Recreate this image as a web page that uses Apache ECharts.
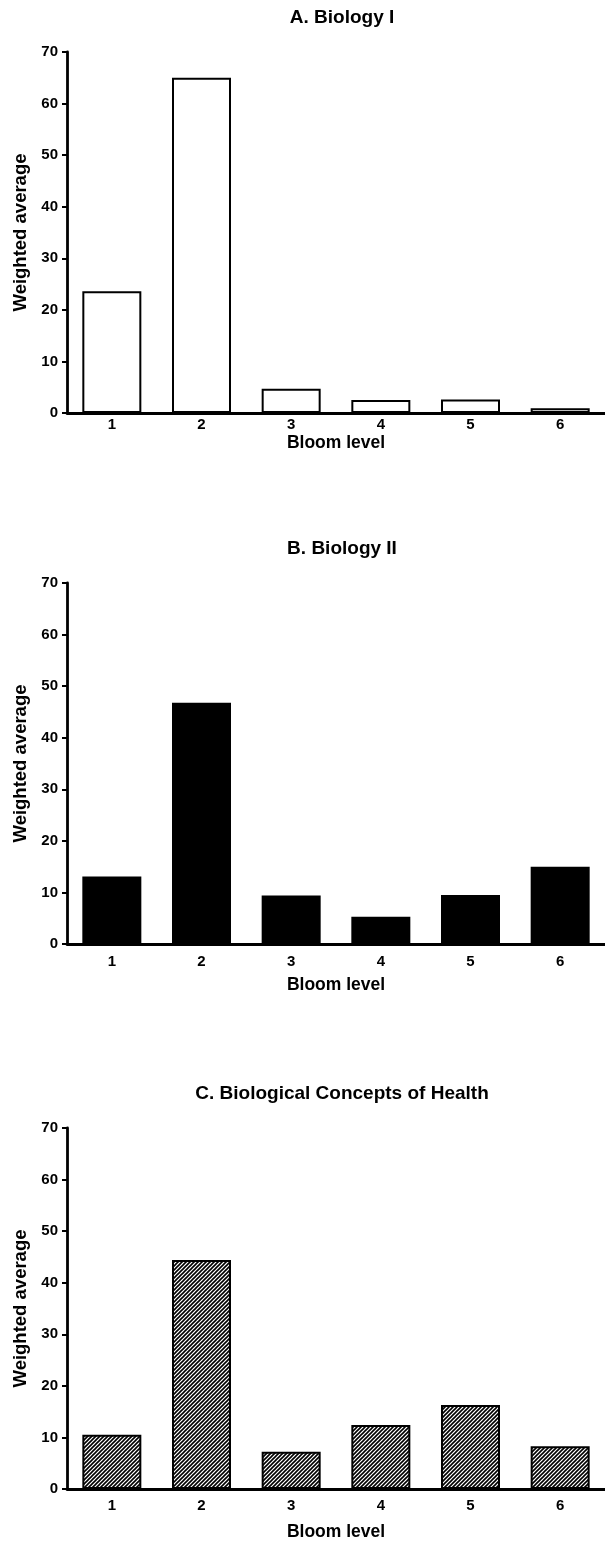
<!DOCTYPE html>
<html>
<head>
<meta charset="utf-8">
<script src="https://cdn.jsdelivr.net/npm/echarts@6/dist/echarts.min.js"></script>
<style>
html,body{margin:0;padding:0;background:#fff;}
#chart{width:605px;height:1544px;}
</style>
</head>
<body>
<div id="chart"></div>
<script>
var categories = ['1','2','3','4','5','6'];
var panelTitles = ['A. Biology I','B. Biology II','C. Biological Concepts of Health'];
var biologyI = [23.6, 65.0, 4.7, 2.5, 2.6, 0.9];
var biologyII = [13.1, 46.8, 9.4, 5.3, 9.5, 15.0];
var conceptsHealth = [10.5, 44.4, 7.2, 12.4, 16.3, 8.3];
var yTicks = [0, 10, 20, 30, 40, 50, 60, 70];
var xAxisName = 'Bloom level';
var yAxisName = 'Weighted average';

var FONT = '"Liberation Sans", Arial, Helvetica, sans-serif';

// hatch pattern
var pc = document.createElement('canvas');
pc.width = 4; pc.height = 4;
var pctx = pc.getContext('2d');
pctx.fillStyle = '#fff';
pctx.fillRect(0,0,4,4);
pctx.strokeStyle = '#000';
pctx.lineWidth = 1.6;
pctx.beginPath();
pctx.moveTo(-1,5); pctx.lineTo(5,-1);
pctx.moveTo(-3,3); pctx.lineTo(3,-3);
pctx.moveTo(1,7); pctx.lineTo(7,1);
pctx.stroke();

var tops = [52, 583, 1128];
var titleY = [3, 534, 1079];
var labelMargins = [4, 10, 9];
var nameGaps = [21, 32, 34];
var dataSets = [biologyI, biologyII, conceptsHealth];
var fills = ['#ffffff', '#000000', {image: pc, repeat: 'repeat'}];

var option = {
  animation: false,
  backgroundColor: '#fff',
  title: [], grid: [], xAxis: [], yAxis: [], series: []
};

for (var i = 0; i < 3; i++) {
  option.title.push({
    text: panelTitles[i], left: 337, top: titleY[i], textAlign: 'center',
    textStyle: {fontFamily: FONT, fontWeight: 'bold', fontSize: 19, color: '#000'}
  });
  option.grid.push({left: 67, top: tops[i], width: 540, height: 361});
  option.xAxis.push({
    type: 'category', gridIndex: i, data: categories,
    name: xAxisName, nameLocation: 'middle', nameGap: nameGaps[i],
    nameTextStyle: {fontFamily: FONT, fontWeight: 'bold', fontSize: 17.5, color: '#000'},
    axisLine: {lineStyle: {color: '#000', width: 2.8}},
    axisTick: {alignWithLabel: true, length: 4, lineStyle: {color: '#000', width: 2}},
    axisLabel: {margin: labelMargins[i], fontFamily: FONT, fontWeight: 'bold', fontSize: 15, color: '#000'},
    splitLine: {show: false}
  });
  option.yAxis.push({
    type: 'value', gridIndex: i, min: yTicks[0], max: yTicks[yTicks.length-1], interval: yTicks[1]-yTicks[0],
    name: yAxisName, nameLocation: 'middle', nameGap: 37, nameRotate: 90,
    nameTextStyle: {fontFamily: FONT, fontWeight: 'bold', fontSize: 18.5, color: '#000'},
    axisLine: {show: true, lineStyle: {color: '#000', width: 2.8}},
    axisTick: {show: true, length: 5, lineStyle: {color: '#000', width: 2}},
    axisLabel: {margin: 9, fontFamily: FONT, fontWeight: 'bold', fontSize: 15, color: '#000'},
    splitLine: {show: false}
  });
  option.series.push({
    type: 'bar', xAxisIndex: i, yAxisIndex: i, data: dataSets[i],
    barWidth: 59,
    itemStyle: {color: fills[i], borderColor: '#000', borderWidth: 2},
    z: 1
  });
}

var chart = echarts.init(document.getElementById('chart'), null, {renderer: 'canvas'});
chart.setOption(option);
</script>
</body>
</html>
